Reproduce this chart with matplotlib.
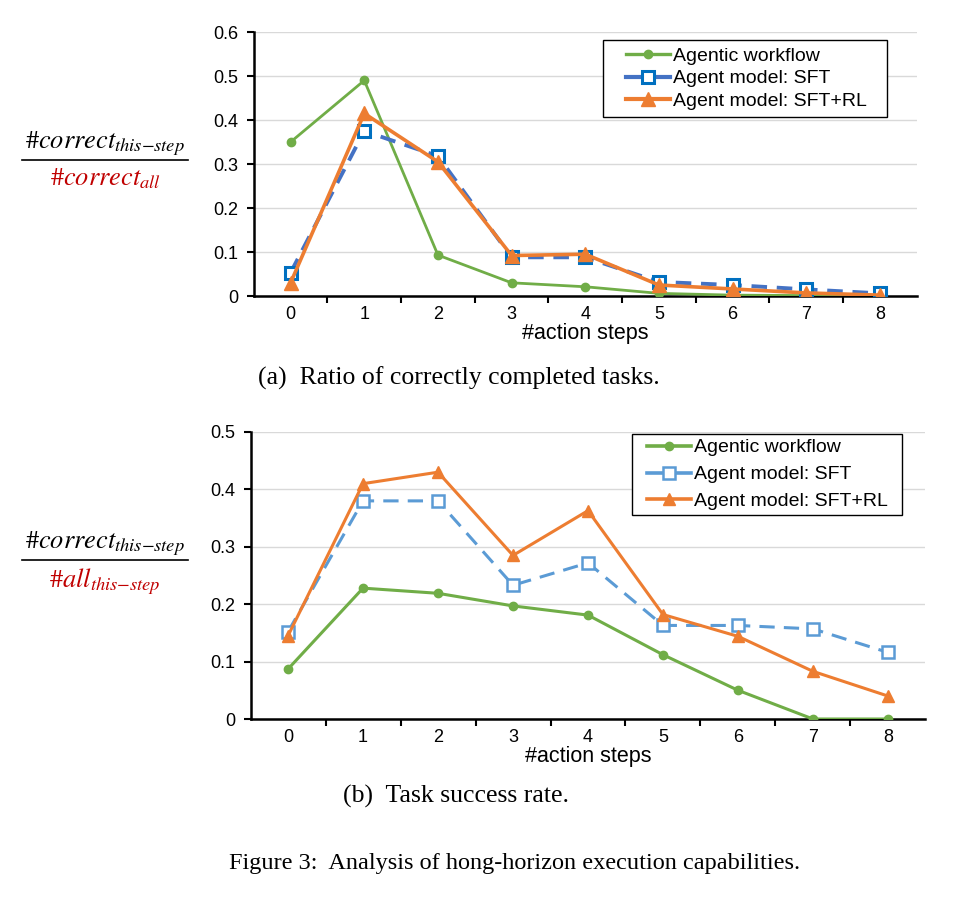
import numpy as np
import matplotlib
matplotlib.use('Agg')
import matplotlib.pyplot as plt
from matplotlib.lines import Line2D
from matplotlib.patches import Rectangle

plt.rcParams['font.family'] = ['Liberation Sans', 'DejaVu Sans']
plt.rcParams['mathtext.fontset'] = 'stix'

steps = [0, 1, 2, 3, 4, 5, 6, 7, 8]
series_names = ['Agentic workflow', 'Agent model: SFT', 'Agent model: SFT+RL']

# (a) ratio of correctly completed tasks
ratio_workflow = [0.350, 0.490, 0.093, 0.030, 0.021, 0.006, 0.002, 0.001, 0.000]
ratio_sft = [0.053, 0.375, 0.318, 0.088, 0.088, 0.032, 0.025, 0.015, 0.006]
ratio_rl = [0.030, 0.415, 0.305, 0.092, 0.095, 0.025, 0.016, 0.007, 0.002]

# (b) task success rate
rate_workflow = [0.087, 0.228, 0.219, 0.197, 0.181, 0.112, 0.050, 0.000, 0.000]
rate_sft = [0.152, 0.380, 0.380, 0.233, 0.272, 0.163, 0.163, 0.157, 0.116]
rate_rl = [0.145, 0.410, 0.430, 0.285, 0.363, 0.182, 0.144, 0.083, 0.040]

GREEN = '#70AD47'
ORANGE = '#ED7D31'
RED = '#C00000'
W, H = 954, 900

fig = plt.figure(figsize=(9.54, 9.0), dpi=100)


def style_axes(ax, ymax):
    ax.set_xlim(-0.5, 8.5)
    ax.set_ylim(0, ymax)
    ax.set_yticks(np.arange(0, ymax + 0.001, 0.1))
    ax.set_yticklabels(['0'] + ['%.1f' % v for v in np.arange(0.1, ymax + 0.001, 0.1)])
    ax.set_xticks(steps)
    ax.set_xticks(np.arange(0.5, 8.5, 1), minor=True)
    ax.tick_params(axis='x', which='major', length=0, labelsize=13, pad=7)
    ax.tick_params(axis='x', which='minor', length=5, width=1.5, direction='out')
    ax.tick_params(axis='y', length=5, width=1.5, labelsize=13, pad=6)
    for s in ('top', 'right'):
        ax.spines[s].set_visible(False)
    for s in ('left', 'bottom'):
        ax.spines[s].set_linewidth(1.8)
    ax.grid(axis='y', color='#D9D9D9', linewidth=1.0)
    ax.set_axisbelow(True)
    ax.set_xlabel('#action steps', fontsize=15.5, labelpad=0)


def add_legend(handles, box, handle_x, spacing):
    # box: (left, top, right, bottom) in pixels from top-left
    l, t, r, b = box
    fig.add_artist(Rectangle((l / W, 1 - b / H), (r - l) / W, (b - t) / H,
                             transform=fig.transFigure, facecolor='white',
                             edgecolor='black', lw=1.0, zorder=4))
    leg = fig.legend(handles=handles, loc='center left',
                     bbox_to_anchor=(handle_x / W, 1 - (t + b) / 2 / H),
                     fontsize=14, frameon=False, handlelength=2.26,
                     handletextpad=0.15, borderpad=0, labelspacing=spacing,
                     borderaxespad=0)
    leg.set_zorder(5)


# ---- (a) ----
ax1 = fig.add_axes([0.266, 0.6711, 0.695, 0.2933])
style_axes(ax1, 0.6)
ax1.plot(steps, ratio_workflow, color=GREEN, lw=2, marker='o', ms=6, zorder=3)
ax1.plot(steps, ratio_sft, color='#4472C4', lw=2.8, ls=(0, (4, 2.5)), marker='s', ms=9,
         mfc='white', mec='#0070C0', mew=2.2, zorder=3)
ax1.plot(steps, ratio_rl, color=ORANGE, lw=2.6, marker='^', ms=10, zorder=4)
h1 = [Line2D([], [], color=GREEN, lw=2.4, marker='o', ms=6),
      Line2D([], [], color='#4472C4', lw=3, marker='s', ms=9, mfc='white', mec='#0070C0', mew=2.2),
      Line2D([], [], color=ORANGE, lw=3, marker='^', ms=10)]
for h, n in zip(h1, series_names):
    h.set_label(n)
add_legend(h1, (603, 40, 887, 117), 626, 0.24)

# ---- (b) ----
ax2 = fig.add_axes([0.2626, 0.2011, 0.7075, 0.3189])
style_axes(ax2, 0.5)
ax2.plot(steps, rate_workflow, color=GREEN, lw=2.2, marker='o', ms=6, zorder=3)
ax2.plot(steps, rate_sft, color='#5B9BD5', lw=2.2, ls=(0, (5, 3)), marker='s', ms=9,
         mfc='white', mec='#5B9BD5', mew=1.8, zorder=3)
ax2.plot(steps, rate_rl, color=ORANGE, lw=2.2, marker='^', ms=9, zorder=4)
h2 = [Line2D([], [], color=GREEN, lw=2.6, marker='o', ms=6),
      Line2D([], [], color='#5B9BD5', lw=2.6, marker='s', ms=9, mfc='white', mec='#5B9BD5', mew=1.8),
      Line2D([], [], color=ORANGE, lw=2.6, marker='^', ms=9)]
for h, n in zip(h2, series_names):
    h.set_label(n)
add_legend(h2, (632, 434, 902, 515), 647, 0.48)

# ---- fraction y labels ----
MATHFONT = ['STIXGeneral', 'DejaVu Serif']

def fraction_label(ycen, num, den, x0=22, x1=188):
    fx0, fx1 = x0 / W, x1 / W
    fy = 1 - ycen / H
    fig.add_artist(Line2D([fx0, fx1], [fy, fy], color='black', lw=1.2))
    xc = (fx0 + fx1) / 2
    fig.text(xc, fy + 0.002, num, ha='center', va='bottom', fontsize=19, family=MATHFONT)
    fig.text(xc, fy - 0.007, den, ha='center', va='top', fontsize=19, color=RED,
             family=MATHFONT)

fraction_label(160, '#' + r'$correct_{this{-}step}$', '#' + r'$correct_{all}$')
fraction_label(560, '#' + r'$correct_{this{-}step}$', '#' + r'$all_{this{-}step}$')

# ---- captions ----
serif = ['Liberation Serif', 'DejaVu Serif']
fig.text(258 / W, 1 - 378 / H, '(a)  Ratio of correctly completed tasks.', fontsize=18.5,
         family=serif, va='center', ha='left')
fig.text(343 / W, 1 - 796 / H, '(b)  Task success rate.', fontsize=18.5,
         family=serif, va='center', ha='left')
fig.text(515 / W, 1 - 864 / H, 'Figure 3:  Analysis of hong-horizon execution capabilities.',
         fontsize=17.5, family=serif, va='center', ha='center')

fig.savefig('out.png', dpi=100)
